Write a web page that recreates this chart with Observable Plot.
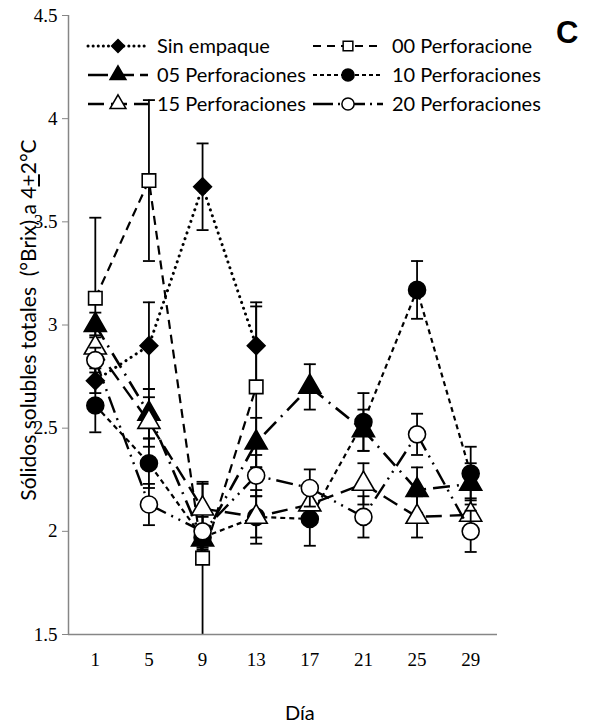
<!DOCTYPE html>
<html><head><meta charset="utf-8">
<script src="https://cdn.jsdelivr.net/npm/d3@7"></script>
<script src="https://cdn.jsdelivr.net/npm/@observablehq/plot@0.6"></script>
<style>
body{margin:0;background:#fff;}
#wrap{position:relative;width:601px;height:727px;overflow:hidden;background:#fff;}
#wrap svg{display:block;}
.ov{position:absolute;white-space:nowrap;color:#000;}
</style></head><body><div id="wrap"></div>
<script>
// ---- data ----
const days = [1, 5, 9, 13, 17, 21, 25, 29];
const yTicks = [1.5, 2, 2.5, 3, 3.5, 4, 4.5];
const seriesNames = ["Sin empaque", "00 Perforacione", "05 Perforaciones", "10 Perforaciones", "15 Perforaciones", "20 Perforaciones"];
const sinEmpaque = [2.73, 2.90, 3.67, 2.90];
const sinEmpaqueErr = [0.06, 0.21, 0.21, 0.21];
const perf00 = [3.13, 3.70, 1.87, 2.70];
const perf00Err = [0.39, 0.39, 0.37, 0.39];
const perf05 = [3.00, 2.57, 1.96, 2.43, 2.70, 2.49, 2.20, 2.23];
const perf05Err = [0.06, 0.12, 0.05, 0.12, 0.11, 0.10, 0.11, 0.10];
const perf10 = [2.61, 2.33, 1.97, 2.07, 2.06, 2.53, 3.17, 2.28];
const perf10Err = [0.13, 0.12, 0.05, 0.10, 0.13, 0.14, 0.14, 0.13];
const perf15 = [2.89, 2.53, 2.11, 2.07, 2.13, 2.23, 2.07, 2.08];
const perf15Err = [0.06, 0.12, 0.12, 0.13, 0.06, 0.10, 0.10, 0.08];
const perf20 = [2.83, 2.13, 2.00, 2.27, 2.21, 2.07, 2.47, 2.00];
const perf20Err = [0.06, 0.10, 0.07, 0.10, 0.09, 0.10, 0.10, 0.10];

const seriesValues = [sinEmpaque, perf00, perf05, perf10, perf15, perf20];
const seriesErrors = [sinEmpaqueErr, perf00Err, perf05Err, perf10Err, perf15Err, perf20Err];

// ---- styles ----
const styles = [
  {dash: "0.1,6", cap: "round", width: 3, symbol: "diamond2", fill: "black", r: 8},
  {dash: "9,6", cap: "butt", width: 2.2, symbol: "square", fill: "white", r: 7.6},
  {dash: "17,7,2,7", cap: "butt", width: 2.6, symbol: "triangle", fill: "black", r: 8.2},
  {dash: "5,4", cap: "butt", width: 2.2, symbol: "circle", fill: "black", r: 8.5},
  {dash: "16,8", cap: "butt", width: 2.4, symbol: "triangle", fill: "white", r: 8.2},
  {dash: "17,6,2,6,2,6", cap: "butt", width: 2.4, symbol: "circle", fill: "white", r: 8.5}
];
// legend sample dash patterns (as drawn in the reference legend)
const legendDash = ["0.1,5", "8,6", "20,6", "4,3", "16,7", "20,5,2,5"];

const rows = seriesNames.map((name, i) => seriesValues[i].map((v, j) => ({
  serie: name, day: days[j], value: v,
  lo: Math.max(yTicks[0], v - seriesErrors[i][j]), hi: v + seriesErrors[i][j]
})));

const capSymbol = {
  draw(context, size) {
    const w = Math.sqrt(size / Math.PI);
    context.moveTo(-w, 0);
    context.lineTo(w, 0);
  }
};

const marks = [];
const xDomain = [days[0] - 2, days[days.length - 1] + 2];
rows.forEach((data, i) => {
  const s = styles[i];
  marks.push(Plot.line(data, {x: "day", y: "value", stroke: "black", strokeWidth: s.width,
    strokeDasharray: s.dash, strokeLinecap: s.cap, strokeLinejoin: "round"}));
  marks.push(Plot.ruleX(data, {x: "day", y1: "lo", y2: "hi", stroke: "black", strokeWidth: 1.8}));
  marks.push(Plot.dot(data, {x: "day", y: "hi", symbol: capSymbol, r: 6, stroke: "black", strokeWidth: 1.8}));
  marks.push(Plot.dot(data.filter(d => d.lo > yTicks[0]), {x: "day", y: "lo", symbol: capSymbol, r: 6, stroke: "black", strokeWidth: 1.8}));
  marks.push(Plot.dot(data, {x: "day", y: "value", symbol: s.symbol, r: s.r, fill: s.fill, stroke: "black", strokeWidth: 1.6}));
});
marks.push(Plot.ruleX([xDomain[0]], {stroke: "#868686", strokeWidth: 1.5}));
marks.push(Plot.ruleY([yTicks[0]], {stroke: "#868686", strokeWidth: 1.5}));

const chart = Plot.plot({
  width: 601, height: 727,
  marginLeft: 68, marginRight: 104, marginTop: 15, marginBottom: 93,
  style: {fontFamily: "'Liberation Serif', serif", fontSize: "19px", background: "white", color: "black"},
  x: {type: "linear", domain: xDomain, ticks: days, tickFormat: d => String(d), tickSize: 0, tickPadding: 18, label: null},
  y: {domain: [yTicks[0], yTicks[yTicks.length - 1]], ticks: yTicks, tickFormat: d => String(d), tickSize: 6, tickPadding: 5, label: null},
  marks
});
d3.select(chart).selectAll("text")
  .style("font-family", "'Liberation Serif', 'Times New Roman', serif")
  .style("font-size", "19px").attr("fill", "black");
d3.select(chart).selectAll("g[aria-label='y-axis tick'] path, g[aria-label='y-axis'] path").attr("stroke", "#868686");
const wrap = document.getElementById("wrap");
wrap.appendChild(chart);

// y-axis title
const yl = document.createElement("div");
yl.className = "ov";
yl.style.cssText += "font-family:Lato,sans-serif;font-size:21px;width:560px;text-align:center;left:" + (28 - 280) + "px;top:" + (320 - 12) + "px;transform:rotate(-90deg);line-height:24px;";
yl.innerHTML = "Sólidos solubles totales&nbsp; (°Brix) a 4<span style='text-decoration:underline'>+</span>2°C";
wrap.appendChild(yl);

// x-axis title
const xl = document.createElement("div");
xl.className = "ov";
xl.style.cssText += "font-family:Lato,sans-serif;font-size:20px;left:285px;top:700px;";
xl.textContent = "Día";
wrap.appendChild(xl);

// panel letter
const cl = document.createElement("div");
cl.className = "ov";
cl.style.cssText += "font-family:'Liberation Sans',Arial,sans-serif;font-weight:bold;font-size:31px;left:556px;top:15px;";
cl.textContent = "C";
wrap.appendChild(cl);

// legend
const leg = d3.select(wrap).append("svg").attr("width", 601).attr("height", 130)
  .style("position", "absolute").style("left", "0px").style("top", "0px");
const legCols = [{x: 88, len: 60, text: 157}, {x: 313, len: 70, text: 392}];
const legRows = [46, 75, 104];
const symMap = {diamond2: d3.symbolDiamond2, square: d3.symbolSquare, triangle: d3.symbolTriangle, circle: d3.symbolCircle};
seriesNames.forEach((name, i) => {
  const s = styles[i];
  const col = legCols[i % 2];
  const y0 = legRows[Math.floor(i / 2)];
  const g = leg.append("g").attr("transform", `translate(0,${y0})`);
  g.append("line").attr("x1", col.x).attr("x2", col.x + col.len).attr("y1", 0).attr("y2", 0)
    .attr("stroke", "black").attr("stroke-width", s.width).attr("stroke-dasharray", legendDash[i]).attr("stroke-linecap", s.cap);
  g.append("path").attr("transform", `translate(${col.x + col.len / 2},0)`)
    .attr("d", d3.symbol(symMap[s.symbol], Math.PI * (s.r * 0.72) ** 2)())
    .attr("fill", s.fill).attr("stroke", "black").attr("stroke-width", 1.5);
  g.append("text").attr("x", col.text).attr("y", 0).attr("dy", "0.35em")
    .attr("font-family", "Lato, sans-serif").attr("font-size", 20).text(name);
});
</script></body></html>
